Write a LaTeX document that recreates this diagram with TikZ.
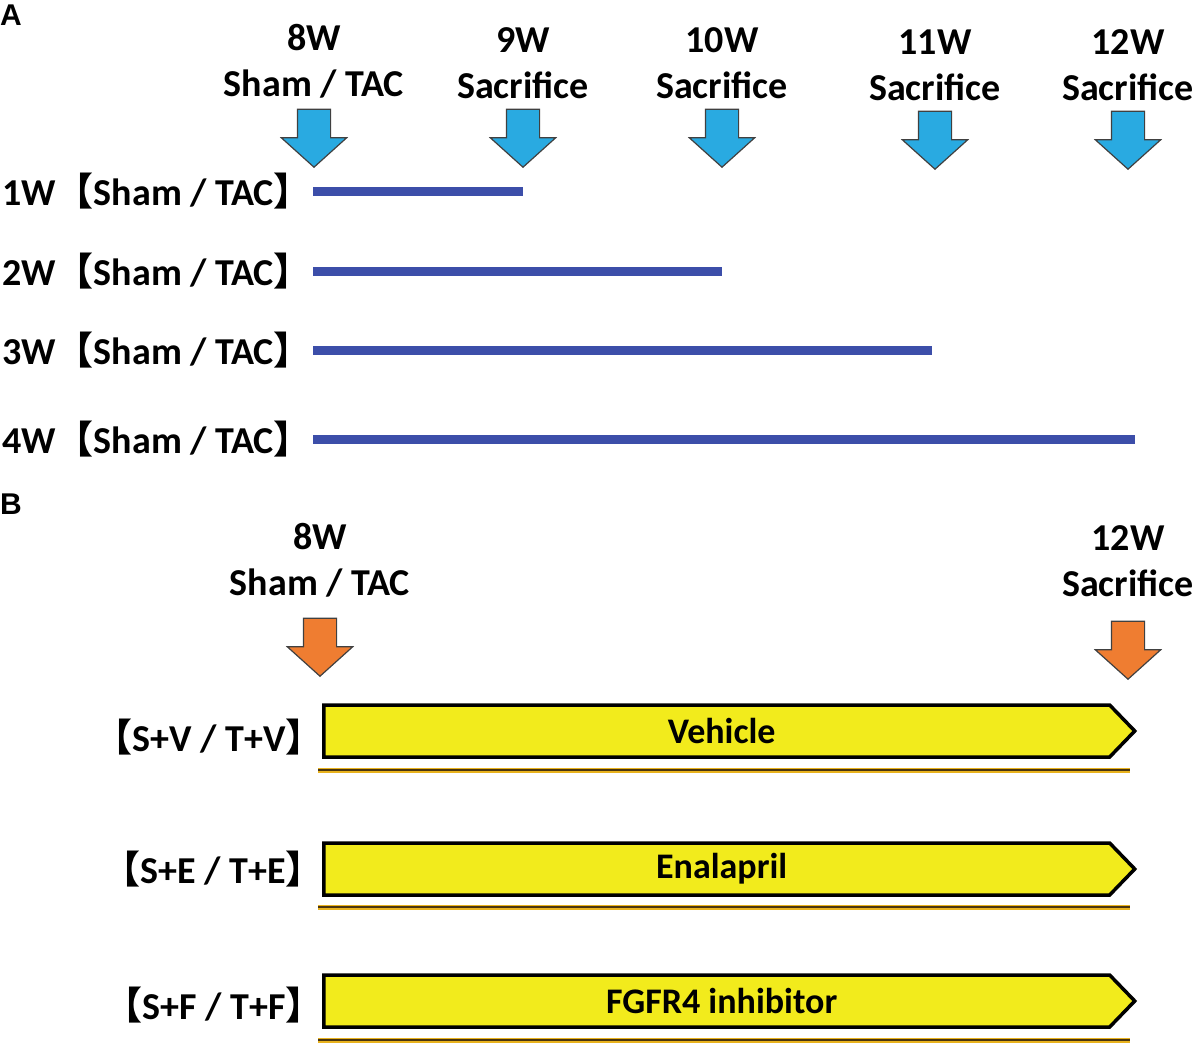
\documentclass[tikz,border=0pt]{standalone}
\usepackage{fontspec}
\setmainfont{Carlito}
\newfontfamily\cjk{Noto Sans CJK SC}
\newfontfamily\panelfont{Liberation Sans}
\usetikzlibrary{positioning, shapes.arrows, shapes.symbols}
\definecolor{skyblue}{HTML}{29AAE1}
\definecolor{barblue}{HTML}{3C4EA9}
\definecolor{tangerine}{HTML}{EF7D31}
\definecolor{lemon}{HTML}{F2EB1C}
\definecolor{goldline}{HTML}{E8B21E}
\definecolor{brownline}{HTML}{4A3510}

\begin{document}
\begin{tikzpicture}[
    x=1pt, y=-1pt,
    panel/.style={
        font=\panelfont\bfseries\fontsize{30}{32}\selectfont,
        inner sep=0pt,
        anchor=north west
    },
    header/.style={
        font=\bfseries\fontsize{38}{46}\selectfont,
        align=center,
        inner sep=0pt,
        anchor=south
    },
    rowlabel/.style={
        font=\bfseries\fontsize{38}{46}\selectfont,
        inner sep=0pt,
        anchor=west
    },
    marker/.style={
        single arrow,
        draw=black!75,
        line width=1.2pt,
        shape border rotate=270,
        minimum height=58pt,
        minimum width=64pt,
        inner sep=16pt,
        single arrow head extend=16pt,
        single arrow tip angle=96,
        anchor=tip
    },
    bar/.style={
        line width=9pt,
        color=barblue
    },
    drug/.style={
        signal,
        signal to=east,
        signal pointer angle=92,
        draw=black,
        line width=3.5pt,
        fill=lemon,
        minimum width=811pt,
        minimum height=52pt,
        inner sep=0pt,
        font=\bfseries\fontsize{36}{40}\selectfont,
        anchor=west
    },
    underline/.style={
        draw=goldline,
        line width=5pt,
        postaction={draw=brownline, line width=2.4pt}
    }
]
\useasboundingbox (0,0) rectangle (1196,1046);

% Panel A
\node[panel] (pa) at (0,5) {A};

% Time points
\node[marker, fill=skyblue] (a8) at (314,168) {};
\node[marker, fill=skyblue] (a9) at (523,168) {};
\node[marker, fill=skyblue] (a10) at (722,168) {};
\node[marker, fill=skyblue] (a11) at (935,170) {};
\node[marker, fill=skyblue] (a12) at (1128,170) {};

\node[header, above=10pt of a8] (h8) {8W\\Sham / TAC};
\node[header, above=10pt of a9] (h9) {9W\\Sacrifice};
\node[header, above=10pt of a10] (h10) {10W\\Sacrifice};
\node[header, above=10pt of a11] (h11) {11W\\Sacrifice};
\node[header, above=10pt of a12] (h12) {12W\\Sacrifice};

% Groups
\node[rowlabel] (r1) at (2,191) {1W{\cjk 【}Sham / TAC{\cjk 】}};
\node[rowlabel] (r2) at (2,271) {2W{\cjk 【}Sham / TAC{\cjk 】}};
\node[rowlabel] (r3) at (2,350) {3W{\cjk 【}Sham / TAC{\cjk 】}};
\node[rowlabel] (r4) at (2,439) {4W{\cjk 【}Sham / TAC{\cjk 】}};

\coordinate (s1) at (313,191);
\coordinate (e1) at (523,191);
\coordinate (s2) at (313,271);
\coordinate (e2) at (722,271);
\coordinate (s3) at (313,350);
\coordinate (e3) at (932,350);
\coordinate (s4) at (313,439);
\coordinate (e4) at (1135,439);

\draw[bar] (s1) -- (e1);
\draw[bar] (s2) -- (e2);
\draw[bar] (s3) -- (e3);
\draw[bar] (s4) -- (e4);

% Panel B
\node[panel] (pb) at (0,494) {B};

\node[marker, fill=tangerine] (b8) at (320,677) {};
\node[marker, fill=tangerine] (b12) at (1128,680) {};

\node[header, above=20pt of b8] (k8) {8W\\Sham / TAC};
\node[header, above=24pt of b12] (k12) {12W\\Sacrifice};

% Treatments
\node[drug] (vehicle) at (322,731) {\hspace*{10pt}Vehicle};
\node[drug] (enalapril) at (322,869) {\hspace*{10pt}Enalapril};
\node[drug] (fgfr) at (322,1001) {\hspace*{10pt}FGFR4 inhibitor};

\node[rowlabel, anchor=east] (t1) at (324,737) {{\cjk 【}S+V / T+V{\cjk 】}};
\node[rowlabel, anchor=east] (t2) at (324,869) {{\cjk 【}S+E / T+E{\cjk 】}};
\node[rowlabel, anchor=east] (t3) at (324,1005) {{\cjk 【}S+F / T+F{\cjk 】}};

\coordinate (u1l) at (318,770);
\coordinate (u1r) at (1130,770);
\coordinate (u2l) at (318,907);
\coordinate (u2r) at (1130,907);
\coordinate (u3l) at (318,1040);
\coordinate (u3r) at (1130,1040);

\draw[underline] (u1l) -- (u1r);
\draw[underline] (u2l) -- (u2r);
\draw[underline] (u3l) -- (u3r);

\end{tikzpicture}
\end{document}
